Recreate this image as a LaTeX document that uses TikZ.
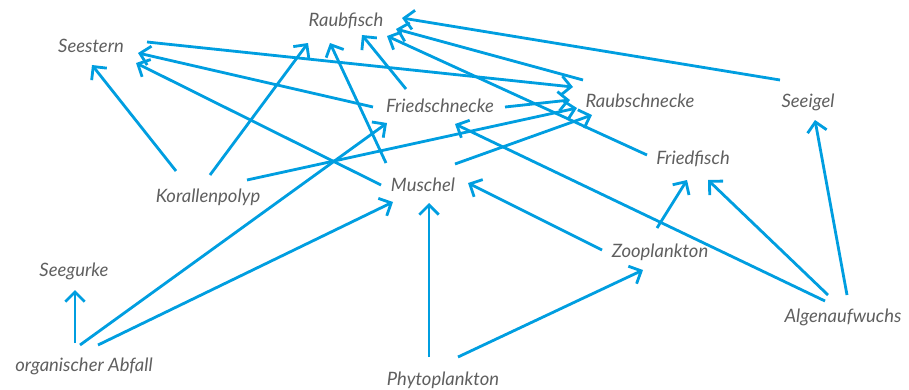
\documentclass[tikz,border=0pt]{standalone}
\usepackage{fontspec}
\setmainfont{Lato}
\usetikzlibrary{arrows.meta}
\definecolor{netblue}{RGB}{0,158,224}
\definecolor{namegray}{RGB}{95,95,95}
\begin{document}
\begin{tikzpicture}[x=0.02cm,y=-0.02cm,
  spec/.style={inner sep=0pt, text height=8pt, text depth=2.5pt, text=namegray, font=\fontsize{10.5}{12}\selectfont\itshape},
  feeds/.style={draw=netblue, line width=1.6pt, -{Straight Barb[length=5.5pt,width=11pt]}}]
\useasboundingbox (0,0) rectangle (909,389);
\node[spec] (raubfisch) at (346,22){Raubfisch};
\node[spec] (seestern) at (91,48){Seestern};
\node[spec] (friedschnecke) at (440,108){Friedschnecke};
\node[spec] (raubschnecke) at (640,103){Raubschnecke};
\node[spec] (seeigel) at (808,103){Seeigel};
\node[spec] (friedfisch) at (693,160){Friedfisch};
\node[spec] (korallenpolyp) at (208,198){Korallenpolyp};
\node[spec] (muschel) at (423,187){Muschel};
\node[spec] (seegurke) at (74,272){Seegurke};
\node[spec] (zooplankton) at (660,253){Zooplankton};
\node[spec] (algen) at (843,318){Algenaufwuchs};
\node[spec] (abfall) at (84,367){organischer Abfall};
\node[spec] (phyto) at (443,381){Phytoplankton};
\draw[feeds] ([shift={(-28,-23)}]seeigel.center) -- ([shift={(56,-4)}]raubfisch.center);
\draw[feeds] ([shift={(-57,-23)}]raubschnecke.center) -- ([shift={(50,7)}]raubfisch.center);
\draw[feeds] ([shift={(-46,-5)}]friedfisch.center) -- ([shift={(41,14)}]raubfisch.center);
\draw[feeds] ([shift={(-34,-19)}]friedschnecke.center) -- ([shift={(16,13)}]raubfisch.center);
\draw[feeds] ([shift={(-37,-24)}]muschel.center) -- ([shift={(-16,21)}]raubfisch.center);
\draw[feeds] ([shift={(2,-23)}]korallenpolyp.center) -- ([shift={(-38,21)}]raubfisch.center);
\draw[feeds] ([shift={(-32,-27)}]korallenpolyp.center) -- ([shift={(1,17)}]seestern.center);
\draw[feeds] ([shift={(-67,-1)}]friedschnecke.center) -- ([shift={(47,5)}]seestern.center);
\draw[feeds] ([shift={(-42,-2)}]muschel.center) -- ([shift={(45,15)}]seestern.center);
\draw[feeds] ([shift={(56,-6)}]seestern.center) -- ([shift={(-67,-16)}]raubschnecke.center);
\draw[feeds] ([shift={(65,-1)}]friedschnecke.center) -- ([shift={(-70,-3)}]raubschnecke.center);
\draw[feeds] ([shift={(39,-18)}]korallenpolyp.center) -- ([shift={(-63,5)}]raubschnecke.center);
\draw[feeds] ([shift={(32,-23)}]muschel.center) -- ([shift={(-48,12)}]raubschnecke.center);
\draw[feeds] ([shift={(-4,-22)}]abfall.center) -- ([shift={(-53,15)}]friedschnecke.center);
\draw[feeds] ([shift={(-18,-17)}]algen.center) -- ([shift={(15,16)}]friedschnecke.center);
\draw[feeds] ([shift={(14,-22)}]abfall.center) -- ([shift={(-30,15)}]muschel.center);
\draw[feeds] ([shift={(-14,-24)}]phyto.center) -- ([shift={(6,16)}]muschel.center);
\draw[feeds] ([shift={(-58,-3)}]zooplankton.center) -- ([shift={(45,-4)}]muschel.center);
\draw[feeds] ([shift={(15,-24)}]phyto.center) -- ([shift={(-17,17)}]zooplankton.center);
\draw[feeds] ([shift={(-3,-25)}]zooplankton.center) -- ([shift={(-6,20)}]friedfisch.center);
\draw[feeds] ([shift={(-15,-23)}]algen.center) -- ([shift={(15,20)}]friedfisch.center);
\draw[feeds] ([shift={(4,-23)}]algen.center) -- ([shift={(7,17)}]seeigel.center);
\draw[feeds] ([shift={(-9,-24)}]abfall.center) -- ([shift={(1,18)}]seegurke.center);
\end{tikzpicture}
\end{document}
